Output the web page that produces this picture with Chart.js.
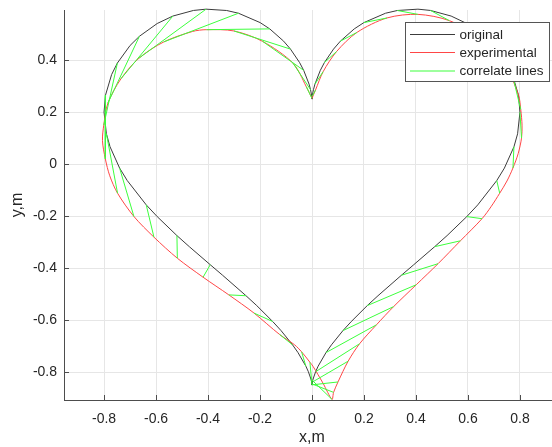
<!DOCTYPE html>
<html>
<head>
<meta charset="utf-8">
<script src="https://cdn.jsdelivr.net/npm/chart.js@4.4.0/dist/chart.umd.min.js"></script>
<style>
  html, body { margin: 0; padding: 0; background: #fff; overflow: hidden; }
  #wrap { position: relative; width: 562px; height: 447px; }
</style>
</head>
<body>
<div id="wrap"><canvas id="chart" width="562" height="447"></canvas></div>
<script>
// original heart path (black)
var origX = [0, 0.0001, 0.0009, 0.0056, 0.0113, 0.0320, 0.0477, 0.0828, 0.1093, 0.1625, 0.1994, 0.2828, 0.3283, 0.4075, 0.4558,
  0.5352, 0.5955, 0.6638, 0.6997, 0.7486, 0.7708, 0.7942, 0.8000, 0.7909, 0.7769, 0.7401, 0.7107, 0.6377, 0.5955, 0.5196,
  0.4719, 0.3914, 0.3439, 0.2538, 0.2125, 0.1510, 0.1190, 0.0749, 0.0538, 0.0236, 0.0139, 0.0042, 0.0014, 0.0000, 0,
  -0.0000, -0.0014, -0.0042, -0.0139, -0.0236, -0.0538, -0.0749, -0.1190, -0.1510, -0.2125, -0.2538, -0.3439, -0.3914,
  -0.4719, -0.5196, -0.5955, -0.6377, -0.7107, -0.7401, -0.7769, -0.7909, -0.8000, -0.7942, -0.7708, -0.7486, -0.6997,
  -0.6638, -0.5955, -0.5352, -0.4558, -0.4075, -0.3283, -0.2828, -0.1994, -0.1625, -0.1093, -0.0828, -0.0477, -0.0320,
  -0.0113, -0.0056, -0.0009, -0.0001, 0];
var origY = [0.25, 0.2528, 0.2611, 0.2863, 0.3077, 0.3606, 0.3905, 0.4423, 0.4730, 0.5200, 0.5442, 0.5803, 0.5908, 0.5959, 0.5910,
  0.5694, 0.5407, 0.4917, 0.4564, 0.3888, 0.3444, 0.2657, 0.2000, 0.1166, 0.0667, -0.0153, -0.0633, -0.1568, -0.2019, -0.2750,
  -0.3176, -0.3870, -0.4275, -0.5063, -0.5443, -0.6056, -0.6405, -0.6951, -0.7250, -0.7772, -0.7986, -0.8267, -0.8384, -0.8490, -0.85,
  -0.8490, -0.8384, -0.8267, -0.7986, -0.7772, -0.7250, -0.6951, -0.6405, -0.6056, -0.5443, -0.5063, -0.4275, -0.3870,
  -0.3176, -0.2750, -0.2019, -0.1568, -0.0633, -0.0153, 0.0667, 0.1166, 0.2000, 0.2657, 0.3444, 0.3888, 0.4564,
  0.4917, 0.5407, 0.5694, 0.5910, 0.5959, 0.5908, 0.5803, 0.5442, 0.5200, 0.4730, 0.4423, 0.3905, 0.3606,
  0.3077, 0.2863, 0.2611, 0.2528, 0.25];

// experimental path (red)
var expX = [0.000, 0.0134, 0.043, 0.0947, 0.1726, 0.2884, 0.4071, 0.5287, 0.6537, 0.7416, 0.7945, 0.803, 0.808, 0.806, 0.793,
  0.773, 0.750, 0.722, 0.690, 0.654, 0.571, 0.485, 0.401, 0.314, 0.248, 0.183, 0.139, 0.100, 0.083, 0.077,
  0.042, 0.004, -0.008, -0.040, -0.067, -0.125, -0.223, -0.320, -0.419, -0.518, -0.608, -0.685, -0.748, -0.778,
  -0.795, -0.806, -0.801, -0.785, -0.735, -0.665, -0.570, -0.460, -0.406, -0.300, -0.190, -0.073, -0.022, 0.000];
var expY = [0.253, 0.2846, 0.3558, 0.4332, 0.5063, 0.5621, 0.5759, 0.5516, 0.4806, 0.3850, 0.2650, 0.210, 0.150, 0.100, 0.040,
  -0.015, -0.065, -0.112, -0.162, -0.210, -0.295, -0.383, -0.464, -0.548, -0.618, -0.691, -0.758, -0.838, -0.878, -0.905,
  -0.842, -0.778, -0.762, -0.722, -0.695, -0.655, -0.573, -0.503, -0.435, -0.362, -0.281, -0.2015, -0.112, -0.045,
  0.020, 0.090, 0.150, 0.235, 0.328, 0.408, 0.470, 0.510, 0.517, 0.512, 0.472, 0.388, 0.298, 0.253];

// correlate lines: original sample -> experimental sample
var corrOrigX = [0.0009, 0.0113, 0.0477, 0.1093, 0.1994, 0.3283, 0.4558, 0.5955, 0.6997, 0.7708, 0.8000, 0.7769, 0.7107,
  0.5955, 0.4719, 0.3439, 0.2125, 0.1190, 0.0538, 0.0139, 0.0014, 0.0000, -0.0010, -0.0042, 0.0000, -0.0236, -0.0749,
  -0.1510, -0.2538, -0.3914, -0.5196, -0.6377, -0.7401, -0.7909, -0.7942, -0.7486, -0.6638, -0.5352, -0.4075, -0.2828,
  -0.1625, -0.0828, -0.0320, -0.0056, -0.0001];
var corrOrigY = [0.2611, 0.3077, 0.3905, 0.4730, 0.5442, 0.5908, 0.5910, 0.5407, 0.4564, 0.3444, 0.2000, 0.0667, -0.0633,
  -0.2019, -0.3176, -0.4275, -0.5443, -0.6405, -0.7250, -0.7986, -0.8384, -0.8490, -0.8450, -0.8267, -0.8490, -0.7772, -0.6951,
  -0.6056, -0.5063, -0.3870, -0.2750, -0.1568, -0.0153, 0.1166, 0.2657, 0.3888, 0.4917, 0.5694, 0.5959, 0.5803,
  0.5200, 0.4423, 0.3606, 0.2863, 0.2528];
var corrExpX = [0.0134, 0.043, 0.0947, 0.1726, 0.2884, 0.4071, 0.5287, 0.6537, 0.7416, 0.803, 0.806, 0.773, 0.722,
  0.654, 0.571, 0.485, 0.401, 0.314, 0.248, 0.183, 0.139, 0.100, 0.083, 0.077, -0.008, -0.040, -0.125,
  -0.223, -0.320, -0.419, -0.518, -0.608, -0.685, -0.748, -0.795, -0.801, -0.785, -0.735, -0.665, -0.570,
  -0.406, -0.300, -0.190, -0.073, -0.022];
var corrExpY = [0.2846, 0.3558, 0.4332, 0.5063, 0.5621, 0.5759, 0.5516, 0.4806, 0.3850, 0.210, 0.100, -0.015, -0.112,
  -0.210, -0.295, -0.383, -0.464, -0.548, -0.618, -0.691, -0.758, -0.838, -0.878, -0.905, -0.762, -0.722, -0.655,
  -0.573, -0.503, -0.435, -0.362, -0.281, -0.2015, -0.112, 0.020, 0.150, 0.235, 0.328, 0.408, 0.470,
  0.517, 0.512, 0.472, 0.388, 0.298];

var xTicks = [-0.8, -0.6, -0.4, -0.2, 0, 0.2, 0.4, 0.6, 0.8];
var yTicks = [-0.8, -0.6, -0.4, -0.2, 0, 0.2, 0.4];
var seriesNames = ["original", "experimental", "correlate lines"];

function toPoints(xs, ys) {
  return xs.map(function (x, i) { return { x: x, y: ys[i] }; });
}

// each correlate line is a pair of points, broken by a null point
var corrPoints = [];
for (var i = 0; i < corrOrigX.length; i++) {
  corrPoints.push({ x: corrOrigX[i], y: corrOrigY[i] });
  corrPoints.push({ x: corrExpX[i], y: corrExpY[i] });
  corrPoints.push({ x: null, y: null });
}

var textColor = '#262626';
var axisColor = '#4d4d4d';
Chart.defaults.font.family = '"Liberation Sans", Arial, Helvetica, sans-serif';

// MATLAB-ish bits: ticks pointing inside and a boxed legend in the corner
var matlabBits = {
  id: 'matlabBits',
  afterDraw: function (chart) {
    var ctx = chart.ctx, a = chart.chartArea;
    var sx = chart.scales.x, sy = chart.scales.y;
    ctx.save();
    ctx.strokeStyle = axisColor;
    ctx.lineWidth = 1;
    ctx.beginPath();
    sx.ticks.forEach(function (t) {
      var px = Math.round(sx.getPixelForValue(t.value)) + 0.5;
      ctx.moveTo(px, a.bottom);
      ctx.lineTo(px, a.bottom - 5);
    });
    sy.ticks.forEach(function (t) {
      var py = Math.round(sy.getPixelForValue(t.value)) + 0.5;
      ctx.moveTo(a.left, py);
      ctx.lineTo(a.left + 5, py);
    });
    ctx.stroke();

    // legend
    ctx.fillStyle = '#ffffff';
    ctx.fillRect(405, 22, 144, 60);
    ctx.strokeStyle = '#555555';
    ctx.strokeRect(405.5, 22.5, 144, 59);
    var rows = [34.5, 52.5, 71];
    var ds = chart.data.datasets;
    ctx.font = '13.5px "Liberation Sans", Arial, sans-serif';
    ctx.textBaseline = 'middle';
    ctx.textAlign = 'left';
    seriesNames.forEach(function (name, k) {
      var d = ds.filter(function (s) { return s.label === name; })[0];
      ctx.strokeStyle = d.borderColor;
      ctx.lineWidth = 1;
      ctx.beginPath();
      ctx.moveTo(410, rows[k]);
      ctx.lineTo(455, rows[k]);
      ctx.stroke();
      ctx.fillStyle = textColor;
      ctx.fillText(name, 459.5, rows[k] + 0.5);
    });
    ctx.restore();
  }
};

new Chart(document.getElementById('chart'), {
  type: 'scatter',
  data: {
    datasets: [{
      label: seriesNames[2],
      data: corrPoints,
      showLine: true,
      borderColor: '#3cff3c',
      borderWidth: 1,
      spanGaps: false,
      clip: 4,
      order: 0
    }, {
      label: seriesNames[1],
      data: toPoints(expX, expY),
      showLine: true,
      borderColor: '#ff4646',
      borderWidth: 1,
      tension: 0.3,
      clip: 4,
      order: 1
    }, {
      label: seriesNames[0],
      data: toPoints(origX, origY),
      showLine: true,
      borderColor: '#3c3c3c',
      borderWidth: 1,
      clip: 4,
      order: 2
    }]
  },
  options: {
    responsive: false,
    animation: false,
    devicePixelRatio: 1,
    events: [],
    layout: { padding: { top: 10, left: 0, right: 2, bottom: 0 } },
    elements: { point: { radius: 0 } },
    plugins: { legend: { display: false }, tooltip: { enabled: false } },
    scales: {
      x: {
        type: 'linear',
        min: -0.954,
        max: 0.954,
        afterBuildTicks: function (s) { s.ticks = xTicks.map(function (v) { return { value: v }; }); },
        afterFit: function (s) { s.height = 47; s.paddingLeft = 0; s.paddingRight = 0; },
        ticks: {
          padding: 11,
          color: textColor,
          font: { size: 14 },
          maxRotation: 0,
          autoSkip: false,
          callback: function (v) { return String(v); }
        },
        grid: { color: '#e6e6e6', drawTicks: false },
        border: { color: axisColor },
        title: { display: true, text: 'x,m', color: textColor, font: { size: 16 }, padding: { top: 0, bottom: 0 } }
      },
      y: {
        type: 'linear',
        min: -0.9073,
        max: 0.5927,
        afterBuildTicks: function (s) { s.ticks = yTicks.map(function (v) { return { value: v }; }); },
        afterFit: function (s) { s.width = 64; s.paddingTop = 0; s.paddingBottom = 0; },
        ticks: {
          padding: 7,
          color: textColor,
          font: { size: 14 },
          autoSkip: false,
          callback: function (v) { return String(v); }
        },
        grid: { color: '#e6e6e6', drawTicks: false },
        border: { color: axisColor },
        title: { display: true, text: 'y,m', color: textColor, font: { size: 16 }, padding: { top: 8, bottom: 0 } }
      }
    }
  },
  plugins: [matlabBits]
});
</script>
</body>
</html>
